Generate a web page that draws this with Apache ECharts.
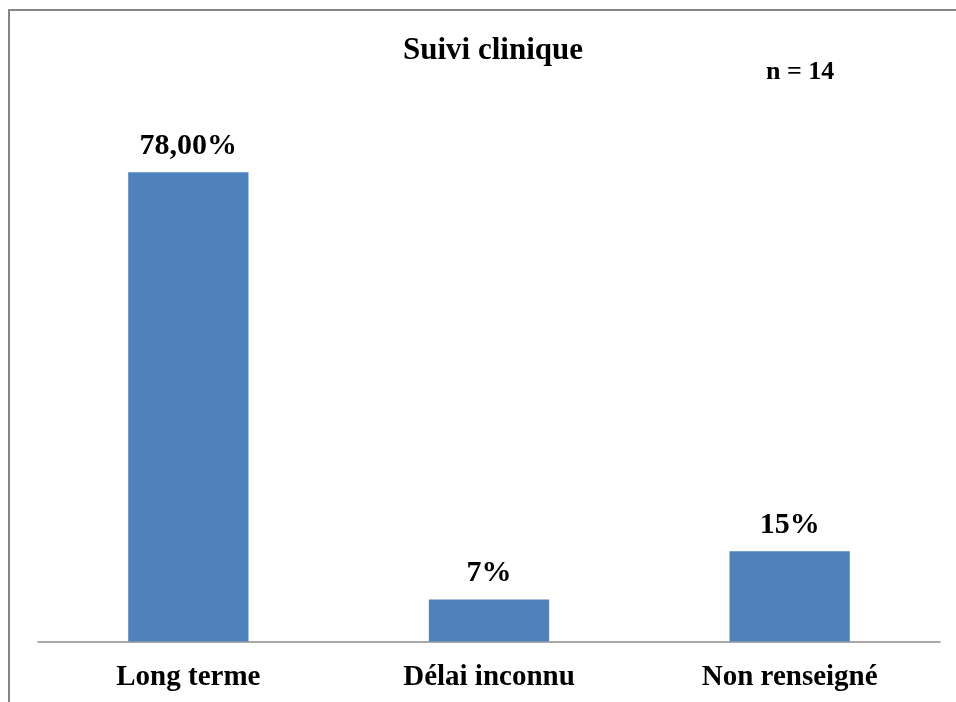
<!DOCTYPE html>
<html>
<head>
<meta charset="utf-8">
<script src="https://cdn.jsdelivr.net/npm/echarts@6/dist/echarts.min.js"></script>
<style>
html,body{margin:0;padding:0;background:#fff;}
#chart{width:956px;height:702px;}
</style>
</head>
<body>
<div id="chart"></div>
<script>
const categories = ['Long terme', 'Délai inconnu', 'Non renseigné'];
const values = [78, 7, 15];
const valueLabels = ['78,00%', '7%', '15%'];
const titleText = 'Suivi clinique';
const noteText = 'n = 14';

const FONT = '"Liberation Serif", "Times New Roman", serif';
const chart = echarts.init(document.getElementById('chart'));
chart.setOption({
  backgroundColor: '#ffffff',
  animation: false,
  title: {
    text: titleText,
    left: 488,
    top: 30,
    textAlign: 'center',
    textStyle: { fontFamily: FONT, fontWeight: 'bold', fontSize: 31, color: '#000' }
  },
  graphic: [
    {
      type: 'rect',
      shape: { x: 9, y: 10, width: 1000, height: 800 },
      style: { fill: 'none', stroke: '#858585', lineWidth: 2 },
      silent: true
    },
    {
      type: 'text',
      left: 766,
      top: 59,
      style: { text: noteText, fontFamily: FONT, fontWeight: 'bold', fontSize: 26, fill: '#000' }
    }
  ],
  grid: { left: 38, right: 16, top: 100, bottom: 60.5, containLabel: false },
  xAxis: {
    type: 'category',
    data: categories,
    axisLine: { show: true, lineStyle: { color: '#8c8c8c', width: 1.5 } },
    axisTick: { show: false },
    axisLabel: { fontFamily: FONT, fontWeight: 'bold', fontSize: 29, color: '#000', margin: 22 }
  },
  yAxis: {
    type: 'value',
    min: 0,
    max: 90,
    show: false,
    splitLine: { show: false }
  },
  series: [{
    type: 'bar',
    data: values,
    barCategoryGap: '60%',
    itemStyle: { color: '#4f81bd' },
    label: {
      show: true,
      position: 'top',
      distance: 11,
      formatter: p => valueLabels[p.dataIndex],
      fontFamily: FONT, fontWeight: 'bold', fontSize: 30, color: '#000'
    }
  }]
});
</script>
</body>
</html>
